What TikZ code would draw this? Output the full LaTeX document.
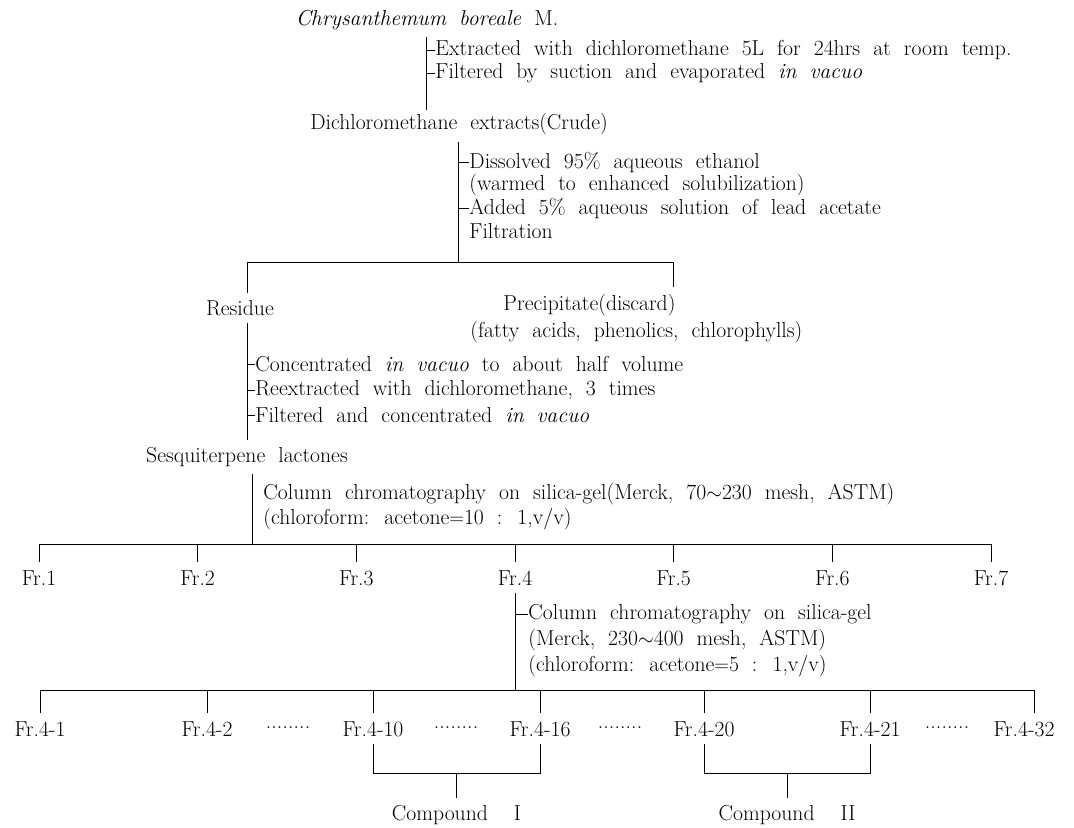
\documentclass[tikz,border=0pt]{standalone}
\newcommand{\fdots}{\raisebox{0.35ex}{\makebox[38pt]{\cleaders\hbox to 4.75pt{\hss.\hss}\hfill}}}
\begin{document}
\begin{tikzpicture}
  [
  x=0.03cm, y=-0.03cm, line width=0.8pt,
  font={\fontsize{18.5}{22}\selectfont\spaceskip=0.6em plus 0.1em\relax},
  item/.style={inner sep=0pt, anchor=center},
  note/.style={inner sep=0pt, anchor=west},
  ]
\useasboundingbox (0,0) rectangle (1074,827);

\node[item] (plant) at (427,20) {\textit{Chrysanthemum boreale} M.};
\node[note] (ext1) at (435,50) {Extracted with dichloromethane 5L for 24hrs at room temp.};
\node[note] (ext2) at (435,73) {Filtered by suction and evaporated \textit{in vacuo}};
\node[item] (crude) at (459,124) {Dichloromethane extracts(Crude)};

\coordinate (line1) at (426,110);
\draw[shorten <=6pt] (plant.south -| line1) -- (line1);
\foreach \s in {ext1,ext2} {
  \draw (\s.west) -- (\s.west -| line1);
}

\node[note] (sol1) at (469,162) {Dissolved 95\% aqueous ethanol};
\node[note] (sol2) at (469,185) {(warmed to enhanced solubilization)};
\node[note] (sol3) at (469,208) {Added 5\% aqueous solution of lead acetate};
\node[note] (sol4) at (469,231) {Filtration};

\coordinate (split1) at (458,262);
\coordinate (left1) at (247,262);
\coordinate (right1) at (673,262);
\draw[shorten <=6pt] (crude.south -| split1) -- (split1);
\foreach \s in {sol1,sol3} {
  \draw (\s.west) -- (\s.west -| split1);
}

\node[item] (residue) at (240,308) {Residue};
\node[note] (precip) at (503,305) {Precipitate(discard)};
\node[note] (fatty) at (470,332) {(fatty acids, phenolics, chlorophylls)};

\draw (left1) -- (right1);
\draw[shorten >=6pt] (left1) -- (left1 |- residue.north);
\draw[shorten >=6pt] (right1) -- (right1 |- precip.north);

\node[note] (con1) at (255,364) {Concentrated \textit{in vacuo} to about half volume};
\node[note] (con2) at (255,390) {Reextracted with dichloromethane, 3 times};
\node[note] (con3) at (255,415) {Filtered and concentrated \textit{in vacuo}};
\node[item] (sesq) at (247,457) {Sesquiterpene lactones};

\draw[shorten <=6pt, shorten >=6pt] (residue.south -| left1) -- (left1 |- sesq.north);
\foreach \s in {con1,con2,con3} {
  \draw (\s.west) -- (\s.west -| left1);
}

\node[note] (cc1) at (263,494) {Column chromatography on silica-gel(Merck, 70$\sim$230 mesh, ASTM)};
\node[note] (cc2) at (263,519) {(chloroform: acetone$=$10 : 1,v/v)};

\coordinate (split2) at (252,544);
\draw[shorten <=6pt] (sesq.south -| split2) -- (split2);

\foreach \i in {1,...,7} {
  \node[item] (fr\i) at ({39+158.67*(\i-1)},578) {Fr.\i};
  \draw[shorten >=7pt] (fr\i.north |- split2) -- (fr\i.north);
}
\draw (fr1.north |- split2) -- (fr7.north |- split2);

\node[note] (sub1) at (528,614) {Column chromatography on silica-gel};
\node[note] (sub2) at (528,640) {(Merck, 230$\sim$400 mesh, ASTM)};
\node[note] (sub3) at (528,666) {(chloroform: acetone$=$5 : 1,v/v)};

\coordinate (split3) at (515,690);
\draw[shorten <=6pt] (fr4.south) -- (fr4.south |- split3);
\draw (sub1.west) -- (sub1.west -| fr4.south);

\node[item] (f41) at (40,729) {Fr.4-1};
\node[item] (f42) at (207,729) {Fr.4-2};
\node[item] (f410) at (373,729) {Fr.4-10};
\node[item] (f416) at (540,729) {Fr.4-16};
\node[item] (f420) at (704,729) {Fr.4-20};
\node[item] (f421) at (870,729) {Fr.4-21};
\node[item] (f432) at (1024,729) {Fr.4-32};
\coordinate (end32) at (1034,690);

\foreach \f in {f41,f42,f410,f416,f420,f421} {
  \draw[shorten >=7pt] (\f.north |- split3) -- (\f.north);
}
\draw[shorten >=7pt] (end32) -- (end32 |- f432.north);
\draw (f41.north |- split3) -- (end32);

\node[item] (d1) at (288,729) {\fdots};
\node[item] (d2) at (456,729) {\fdots};
\node[item] (d3) at (620,729) {\fdots};
\node[item] (d4) at (947,729) {\fdots};

\node[item] (cmp1) at (456.5,815) {Compound~~I};
\node[item] (cmp2) at (787,815) {Compound~~II};
\coordinate (b1) at (456.5,773);
\coordinate (b2) at (787,773);

\draw[shorten <=6pt, shorten >=6pt] (f410.south) -- (f410.south |- b1) -- (f416.south |- b1) -- (f416.south);
\draw[shorten >=6pt] (b1) -- (cmp1.north);
\draw[shorten <=6pt, shorten >=6pt] (f420.south) -- (f420.south |- b2) -- (f421.south |- b2) -- (f421.south);
\draw[shorten >=6pt] (b2) -- (cmp2.north);
\end{tikzpicture}
\end{document}
